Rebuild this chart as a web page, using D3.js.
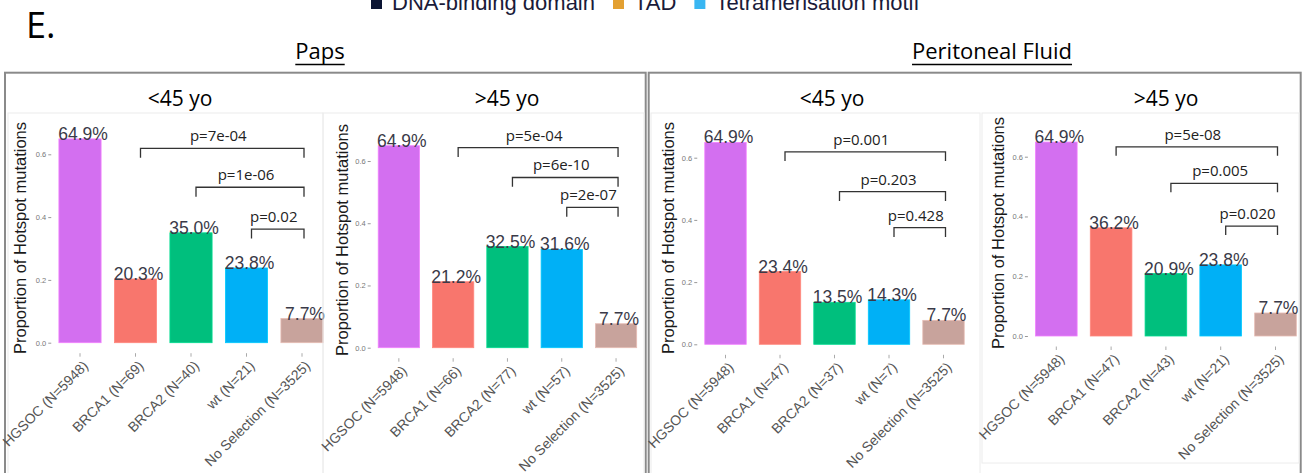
<!DOCTYPE html>
<html>
<head>
<meta charset="utf-8">
<script src="https://d3js.org/d3.v7.min.js"></script>
<style>
  body { margin: 0; background: #fff; }
  svg { display: block; }
</style>
</head>
<body>
<script>
// categories and group sizes
var categories = ["HGSOC", "BRCA1", "BRCA2", "wt", "No Selection"];
var nPapsYoung = [5948, 69, 40, 21, 3525];
var nPapsOld = [5948, 66, 77, 57, 3525];
var nFluidYoung = [5948, 47, 37, 7, 3525];
var nFluidOld = [5948, 47, 43, 21, 3525];

// proportion of hotspot mutations
var propPapsYoung = [0.649, 0.203, 0.350, 0.238, 0.077];
var propPapsOld = [0.649, 0.212, 0.325, 0.316, 0.077];
var propFluidYoung = [0.649, 0.234, 0.135, 0.143, 0.077];
var propFluidOld = [0.649, 0.362, 0.209, 0.238, 0.077];

// comparisons vs "No Selection"
var compared = ["BRCA1", "BRCA2", "wt"];
var pPapsYoung = ["p=7e-04", "p=1e-06", "p=0.02"];
var pPapsOld = ["p=5e-04", "p=6e-10", "p=2e-07"];
var pFluidYoung = ["p=0.001", "p=0.203", "p=0.428"];
var pFluidOld = ["p=5e-08", "p=0.005", "p=0.020"];
var bracketPapsYoung = [0.619, 0.495, 0.362];
var bracketPapsOld = [0.643, 0.547, 0.451];
var bracketFluidYoung = [0.619, 0.491, 0.375];
var bracketFluidOld = [0.633, 0.511, 0.368];

var yTicks = [0, 0.2, 0.4, 0.6];
var ageTitles = ["<45 yo", ">45 yo"];
var sampleTitles = ["Paps", "Peritoneal Fluid"];
var legendLabels = ["DNA-binding domain", "TAD", "Tetramerisation motif"];
var legendColors = ["#0b1533", "#e3a032", "#39b6f2"];

var barColors = ["#d36ff0", "#f8766d", "#00bf7d", "#00b0f6", "#c8a39c"];

var W = 1304, H = 473;
var svg = d3.select("body").append("svg").attr("width", W).attr("height", H);

// legend, cut off by the top edge as in the source figure
var lg = svg.append("g").attr("class", "legend");
var lx = 371;
legendLabels.forEach(function (lab, i) {
    lg.append("rect").attr("x", lx).attr("y", -2).attr("width", 11).attr("height", 11)
        .attr("fill", legendColors[i]);
    var t = lg.append("text").attr("x", lx + 21).attr("y", 10)
        .style("font-family", "Liberation Sans, Arial, sans-serif")
        .style("font-size", "22px").style("fill", "#1b1b3a").text(lab);
    lx += 21 + t.node().getComputedTextLength() + 18;
});

svg.append("text").attr("x", 26).attr("y", 38)
    .style("font-family", "Open Sans, sans-serif").style("font-size", "36px")
    .style("fill", "#000").text("E.");

// outer boxes + underlined group titles
var boxes = [
    { x: 5, w: 640.7, cx: 320, title: sampleTitles[0] },
    { x: 648.7, w: 652, cx: 992, title: sampleTitles[1] }
];
boxes.forEach(function (b) {
    svg.append("rect").attr("x", b.x).attr("y", 72.7).attr("width", b.w).attr("height", 420)
        .attr("fill", "none").attr("stroke", "#8a8a8a").attr("stroke-width", 2);
    var t = svg.append("text").attr("x", b.cx).attr("y", 59).attr("text-anchor", "middle")
        .style("font-family", "Open Sans, sans-serif").style("font-size", "22px")
        .style("fill", "#000").text(b.title);
    var len = t.node().getComputedTextLength();
    svg.append("line").attr("x1", b.cx - len / 2).attr("x2", b.cx + len / 2)
        .attr("y1", 64.5).attr("y2", 64.5).attr("stroke", "#000").attr("stroke-width", 1.4);
});

var panels = [
    { title: ageTitles[0], tx: 180, n: nPapsYoung, v: propPapsYoung, p: pPapsYoung, b: bracketPapsYoung,
      r: [52.25, 329.75], zero: 342.7, top: 154.3, ylx: 20, yly: 238, img: [8, 113, 323, 480] },
    { title: ageTitles[1], tx: 507, n: nPapsOld, v: propPapsOld, p: pPapsOld, b: bracketPapsOld,
      r: [371.7, 643.2], zero: 347.7, top: 161, ylx: 342, yly: 240, img: [323, 113, 644, 480] },
    { title: ageTitles[0], tx: 832, n: nFluidYoung, v: propFluidYoung, p: pFluidYoung, b: bracketFluidYoung,
      r: [698.25, 970.75], zero: 344.3, top: 157.7, ylx: 668, yly: 238, img: [651, 113, 980, 480] },
    { title: ageTitles[1], tx: 1166, n: nFluidOld, v: propFluidOld, p: pFluidOld, b: bracketFluidOld,
      r: [1028.9, 1302.9], zero: 336, top: 156.7, ylx: 998, yly: 233, img: [982, 113, 1299, 463] }
];

var ggFont = "Liberation Sans, Arial, sans-serif";

panels.forEach(function (P) {
    var g = svg.append("g");

    // faint frame of the embedded plot image
    g.append("rect").attr("x", P.img[0]).attr("y", P.img[1])
        .attr("width", P.img[2] - P.img[0]).attr("height", P.img[3] - P.img[1])
        .attr("fill", "none").attr("stroke", "#ececec").attr("stroke-width", 1);

    g.append("text").attr("x", P.tx).attr("y", 106).attr("text-anchor", "middle")
        .style("font-family", "Open Sans, sans-serif").style("font-size", "21px")
        .style("fill", "#000").text(P.title);

    var data = categories.map(function (c, i) { return { cat: c, n: P.n[i], v: P.v[i], col: barColors[i] }; });

    var x = d3.scaleBand().domain(categories).range(P.r).paddingInner(0.24).paddingOuter(0.12);
    var y = d3.scaleLinear().domain([0, 0.6]).range([P.zero, P.top]);
    var cx = function (c) { return x(c) + x.bandwidth() / 2; };

    // y axis
    var ya = g.append("g").attr("transform", "translate(" + (P.r[0] - 1) + ",0)")
        .call(d3.axisLeft(y).tickValues(yTicks).tickFormat(d3.format(".1f")).tickSize(3).tickPadding(2));
    ya.select(".domain").remove();
    ya.selectAll("line").attr("stroke", "#999");
    ya.selectAll("text").style("font-family", ggFont).style("font-size", "7.5px").style("fill", "#777");

    // x axis ticks
    var xa = g.append("g").attr("transform", "translate(0," + (P.zero + 10.5) + ")")
        .call(d3.axisBottom(x).tickSize(3.5).tickFormat(""));
    xa.select(".domain").remove();
    xa.selectAll("line").attr("stroke", "#aaa");

    // bars
    g.selectAll("rect.bar").data(data).enter().append("rect").attr("class", "bar")
        .attr("x", function (d) { return x(d.cat); })
        .attr("width", x.bandwidth())
        .attr("y", function (d) { return y(d.v); })
        .attr("height", function (d) { return y(0) - y(d.v); })
        .attr("fill", function (d) { return d.col; })
        .attr("stroke", function (d) { return d3.color(d.col).brighter(0.4); })
        .attr("stroke-width", 0.8);

    // value labels
    g.selectAll("text.val").data(data).enter().append("text").attr("class", "val")
        .attr("x", function (d) { return cx(d.cat) + 3; })
        .attr("y", function (d) { return y(d.v) + 1; })
        .attr("text-anchor", "middle")
        .style("font-family", ggFont).style("font-size", "17.5px").style("fill", "#3a3a48")
        .text(function (d) { return (d.v * 100).toFixed(1) + "%"; });

    // significance brackets
    compared.forEach(function (c, i) {
        var xl = cx(c) + 5, xr = cx("No Selection") + 2, yb = y(P.b[i]), yd = y(P.b[i] - 0.03);
        g.append("path").attr("d", "M" + xl + "," + yd + "V" + yb + "H" + xr + "V" + yd)
            .attr("fill", "none").attr("stroke", "#333").attr("stroke-width", 1.3);
        g.append("text").attr("x", (xl + xr) / 2 - 4).attr("y", yb - 7).attr("text-anchor", "middle")
            .style("font-family", "Open Sans, sans-serif").style("font-size", "15px")
            .style("fill", "#222").text(P.p[i]);
    });

    // rotated category labels
    g.selectAll("text.cat").data(data).enter().append("text").attr("class", "cat")
        .attr("transform", function (d) {
            return "translate(" + (cx(d.cat) + 9) + "," + (P.zero + 24) + ") rotate(-45)";
        })
        .attr("text-anchor", "end")
        .style("font-family", ggFont).style("font-size", "14px").style("fill", "#555")
        .text(function (d) { return d.cat + " (N=" + d.n + ")"; });

    // y axis title
    g.append("text").attr("transform", "translate(" + P.ylx + "," + P.yly + ") rotate(-90)")
        .attr("text-anchor", "middle").attr("dy", "0.35em")
        .style("font-family", ggFont).style("font-size", "16.5px").style("fill", "#1a1a1a")
        .text("Proportion of Hotspot mutations");
});
</script>
</body>
</html>
